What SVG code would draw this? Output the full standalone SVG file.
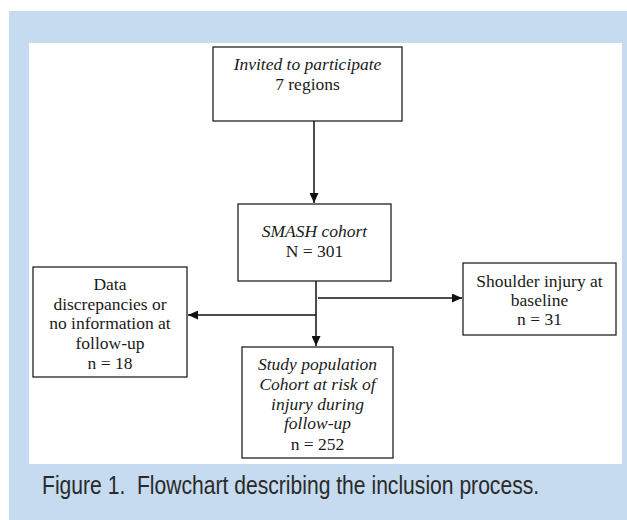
<svg xmlns="http://www.w3.org/2000/svg" width="627" height="520" viewBox="0 0 627 520">
<defs>
<marker id="ah" markerUnits="userSpaceOnUse" markerWidth="11" markerHeight="9" refX="10" refY="4.5" orient="auto">
<path d="M0,0 L10,4.5 L0,9 Z" fill="#111"/>
</marker>
<style>
.box{fill:#fff;stroke:#222;stroke-width:1.3}
.t{font-family:"Liberation Sans",sans-serif;font-family:"Liberation Serif","Times New Roman",serif;font-size:17.5px;fill:#1a1a1a;text-anchor:middle}
.i{font-style:italic}
.c{fill:none;stroke:#111;stroke-width:1.5}
.cap{font-family:"Liberation Sans",Arial,sans-serif;font-size:25px;fill:#2a2a2a}
</style>
</defs>
<rect x="9" y="11" width="618" height="509" fill="#C6DAF0"/>
<rect x="29" y="43" width="593" height="421" fill="#fff"/>
<g id="connectors">
<line class="c" x1="314" y1="121" x2="314" y2="203" marker-end="url(#ah)"/>
<line class="c" x1="316" y1="281" x2="316" y2="346" marker-end="url(#ah)"/>
<line class="c" x1="316" y1="315" x2="188" y2="315" marker-end="url(#ah)"/>
<line class="c" x1="318" y1="298" x2="462" y2="298" marker-end="url(#ah)"/>
</g>
<g id="invited">
<rect class="box" x="213" y="47" width="189" height="74"/>
<text class="t i" x="307.5" y="70">Invited to participate</text>
<text class="t" x="307.5" y="90">7 regions</text>
</g>
<g id="smash">
<rect class="box" x="238" y="204" width="153" height="77"/>
<text class="t i" x="314.5" y="237">SMASH cohort</text>
<text class="t" x="314.5" y="257">N = 301</text>
</g>
<g id="excluded-data">
<rect class="box" x="33" y="267" width="154" height="110"/>
<text class="t" x="110" y="290">Data</text>
<text class="t" x="110" y="309.5">discrepancies or</text>
<text class="t" x="110" y="329">no information at</text>
<text class="t" x="110" y="349">follow-up</text>
<text class="t" x="110" y="368.5">n = 18</text>
</g>
<g id="excluded-shoulder">
<rect class="box" x="463" y="263" width="153" height="72"/>
<text class="t" x="539.5" y="287">Shoulder injury at</text>
<text class="t" x="539.5" y="306">baseline</text>
<text class="t" x="539.5" y="325">n = 31</text>
</g>
<g id="study">
<rect class="box" x="242" y="347" width="151" height="111"/>
<text class="t i" x="317.5" y="370">Study population</text>
<text class="t i" x="317.5" y="390">Cohort at risk of</text>
<text class="t i" x="317.5" y="410">injury during</text>
<text class="t i" x="317.5" y="429">follow-up</text>
<text class="t" x="317.5" y="450">n = 252</text>
</g>
<text class="cap" transform="translate(42,494) scale(0.844,1)" x="0" y="0" textLength="589" lengthAdjust="spacingAndGlyphs" xml:space="preserve">Figure 1.  Flowchart describing the inclusion process.</text>
</svg>
